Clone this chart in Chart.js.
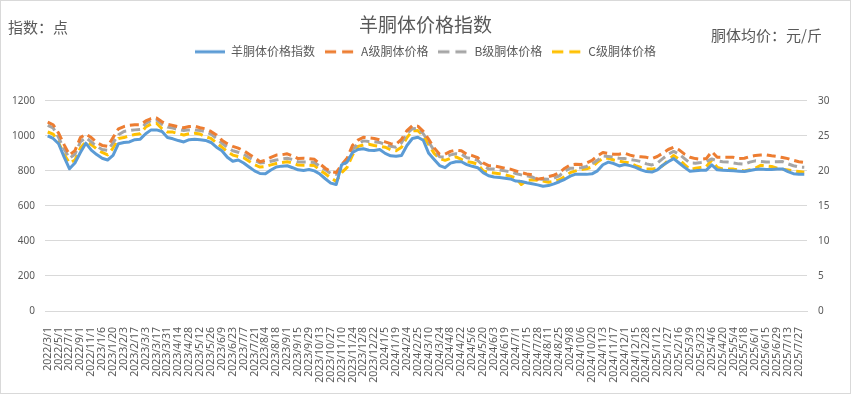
<!DOCTYPE html>
<html><head><meta charset="utf-8">
<script src="https://cdn.jsdelivr.net/npm/chart.js@4.4.0/dist/chart.umd.min.js"></script>
<style>html,body{margin:0;padding:0;background:#fff}#wrap{width:851px;height:394px;position:relative}</style>
</head><body><div id="wrap"><canvas id="c" width="851" height="394"></canvas></div>
<script>
const categories = [
"2022/3/1","2022/4/1","2022/5/1","2022/6/1","2022/7/1","2022/8/1","2022/9/1","2022/10/1","2022/11/1","2022/12/1",
"2023/1/6","2023/1/13","2023/1/20","2023/1/27","2023/2/3","2023/2/10","2023/2/17","2023/2/24","2023/3/3","2023/3/10",
"2023/3/17","2023/3/24","2023/3/31","2023/4/7","2023/4/14","2023/4/21","2023/4/28","2023/5/5","2023/5/12","2023/5/19",
"2023/5/26","2023/6/2","2023/6/9","2023/6/16","2023/6/23","2023/6/30","2023/7/7","2023/7/14","2023/7/21","2023/7/28",
"2023/8/4","2023/8/11","2023/8/18","2023/8/25","2023/9/1","2023/9/8","2023/9/15","2023/9/22","2023/9/29","2023/10/6",
"2023/10/13","2023/10/20","2023/10/27","2023/11/3","2023/11/10","2023/11/17","2023/11/24","2023/12/1","2023/12/8","2023/12/15",
"2023/12/22","2023/12/29","2024/1/5","2024/1/12","2024/1/19","2024/1/26","2024/2/4","2024/2/18","2024/2/25","2024/3/3",
"2024/3/10","2024/3/17","2024/3/24","2024/3/31","2024/4/8","2024/4/15","2024/4/22","2024/4/29","2024/5/6","2024/5/13",
"2024/5/20","2024/5/27","2024/6/3","2024/6/10","2024/6/19","2024/6/24","2024/7/1","2024/7/8","2024/7/15","2024/7/21",
"2024/7/28","2024/8/4","2024/8/11","2024/8/18","2024/8/25","2024/9/1","2024/9/8","2024/9/22","2024/10/6","2024/10/13",
"2024/10/20","2024/10/27","2024/11/3","2024/11/10","2024/11/17","2024/11/24","2024/12/1","2024/12/8","2024/12/15","2024/12/22",
"2024/12/28","2025/1/5","2025/1/12","2025/1/19","2025/1/27","2025/2/9","2025/2/16","2025/3/2","2025/3/9","2025/3/16",
"2025/3/23","2025/3/30","2025/4/6","2025/4/13","2025/4/20","2025/4/27","2025/5/4","2025/5/11","2025/5/18","2025/5/25",
"2025/6/1","2025/6/8","2025/6/15","2025/6/22","2025/6/29","2025/7/6","2025/7/13","2025/7/20","2025/7/27","2025/8/3"
];

// 羊胴体价格指数 (left axis, 点)
const indexSeries = [
1000,985,955,880,812,845,905,958,918,893,
872,862,888,955,962,965,978,981,1012,1034,
1034,1025,990,983,973,965,978,980,978,974,
962,935,915,878,855,862,845,822,800,785,
784,805,822,827,829,818,806,802,808,800,
782,755,730,722,835,850,905,922,926,918,
916,922,900,886,883,888,945,985,992,975,
900,865,830,818,844,852,852,836,826,818,
790,772,765,762,758,754,742,740,732,726,
720,712,716,726,738,752,770,781,781,780,
783,800,835,850,842,828,836,830,820,806,
796,793,806,832,852,870,845,820,798,800,
803,804,834,806,804,802,800,798,796,802,
808,810,808,808,810,811,796,784,781,781
];

// A级胴体价格 (right axis, 元/斤)
const gradeA = [
26.95,26.58,25.38,23.75,22.28,22.88,24.75,25.25,24.75,24.05,
23.63,23.5,24.75,26.0,26.33,26.5,26.58,26.58,27.13,27.45,
27.53,27.0,26.63,26.48,26.3,26.15,26.33,26.38,26.15,26.0,
25.63,25.13,24.38,23.88,23.5,23.25,22.88,22.38,21.88,21.3,
21.5,21.93,22.25,22.3,22.43,22.13,21.75,21.8,21.75,21.65,
21.0,20.38,19.9,19.75,20.88,21.8,23.63,24.38,24.8,24.7,
24.63,24.43,24.13,23.88,23.8,24.5,25.75,26.45,26.38,25.63,
24.5,23.25,22.38,22.38,22.78,22.95,22.88,22.38,22.18,21.88,
21.13,20.75,20.73,20.55,20.38,20.25,20.0,19.75,19.55,19.43,
18.8,18.95,19.18,19.38,19.75,20.38,20.85,20.95,20.9,21.13,
21.5,22.13,22.63,22.5,22.38,22.38,22.53,22.25,22.05,22.0,
21.93,21.75,22.05,22.53,23.05,23.38,23.0,22.38,21.95,21.75,
21.65,21.75,22.75,21.95,21.93,21.93,21.93,21.75,21.8,22.05,
22.2,22.25,22.28,22.15,22.05,21.9,21.75,21.5,21.3,21.2
];

// B级胴体价格 (right axis, 元/斤)
const gradeB = [
26.5,26.13,24.75,23.13,21.8,22.38,24.13,24.75,24.13,23.5,
23.05,22.95,24.0,25.15,25.63,25.75,25.85,25.9,26.75,27.2,
27.28,26.63,26.25,26.1,25.9,25.75,25.85,25.85,25.75,25.63,
25.25,24.63,23.95,23.38,22.88,22.65,22.38,21.88,21.5,21.13,
21.2,21.38,21.55,21.7,21.8,21.63,21.3,21.25,21.25,21.2,
20.63,20.15,19.63,19.5,20.38,21.38,23.0,23.88,24.28,24.2,
24.15,24.05,23.8,23.5,23.38,24.0,25.38,26.0,26.05,25.3,
24.13,22.88,22.0,21.95,22.28,22.45,22.38,21.88,21.75,21.5,
20.75,20.28,20.25,20.13,20.0,19.88,19.63,19.43,19.3,19.13,
18.75,18.85,18.8,18.95,19.3,19.95,20.38,20.38,20.45,20.63,
21.0,21.5,22.13,22.05,21.95,21.8,21.75,21.63,21.5,21.33,
21.0,20.85,21.1,21.75,22.38,22.78,22.38,21.75,21.13,21.1,
21.2,21.33,21.7,21.43,21.3,21.25,21.13,21.0,20.95,21.25,
21.43,21.33,21.25,21.28,21.3,21.33,21.0,20.73,20.55,20.5
];

// C级胴体价格 (right axis, 元/斤)
const gradeC = [
25.55,25.25,24.0,22.38,21.1,21.55,23.25,24.13,23.75,23.13,
22.63,22.28,23.25,24.63,24.75,25.0,25.2,25.3,26.25,26.7,
26.8,26.0,25.55,25.53,25.3,25.13,25.3,25.38,25.25,24.88,
24.63,24.0,23.38,22.75,22.25,22.05,21.88,21.38,20.88,20.55,
20.63,20.85,21.05,21.2,21.3,21.13,20.83,20.8,20.8,20.75,
20.13,19.58,19.0,18.5,19.75,20.5,22.25,23.5,23.7,23.8,
23.63,23.5,23.38,23.0,22.88,23.38,24.75,25.73,25.75,25.0,
23.75,22.5,21.75,21.5,21.8,22.0,21.63,21.33,21.2,20.95,
20.0,19.8,19.7,19.58,19.43,19.25,19.0,18.05,18.63,18.73,
18.65,18.55,18.38,18.5,18.73,19.18,19.75,20.0,20.2,20.3,
20.55,21.25,21.8,21.8,21.55,21.38,21.25,21.13,20.75,20.5,
20.28,20.25,20.38,20.75,21.5,22.2,21.63,20.88,20.2,20.38,
20.5,20.63,21.5,20.5,20.28,20.25,20.25,20.1,20.0,20.15,
20.38,20.8,20.7,20.63,20.38,20.25,20.13,20.0,19.9,19.8
];

const seriesNames = ["羊胴体价格指数","A级胴体价格","B级胴体价格","C级胴体价格"];
const chartTitle = "羊胴体价格指数";
const leftUnit = "指数：点";
const rightUnit = "胴体均价：元/斤";
const leftTicks = {min:0, max:1200, step:200};
const rightTicks = {min:0, max:30, step:5};

const TEXT = '#595959';
const GRID = '#d9d9d9';
const CJK = '"Noto Sans CJK SC", "Noto Sans", sans-serif';
const NUM = '"Noto Sans", "Liberation Sans", sans-serif';

function legendSample(color, dashed){
  const c = document.createElement('canvas');
  c.width = 30; c.height = 6;
  const x = c.getContext('2d');
  x.strokeStyle = color; x.lineWidth = 3;
  if (dashed) x.setLineDash([11,6]);
  x.beginPath(); x.moveTo(0,3); x.lineTo(30,3); x.stroke();
  return c;
}

const framePlugin = {
  id:'frame',
  beforeDraw(chart){
    const ctx = chart.ctx;
    ctx.save();
    ctx.fillStyle = '#fff';
    ctx.fillRect(0,0,chart.width,chart.height);
    ctx.strokeStyle = GRID; ctx.lineWidth = 1;
    ctx.strokeRect(0.5,0.5,chart.width-1,chart.height-1);
    ctx.restore();
  }
};
const unitPlugin = {
  id:'units',
  afterDraw(chart){
    const ctx = chart.ctx;
    ctx.save();
    ctx.fillStyle = TEXT;
    ctx.font = '15px ' + CJK;
    ctx.textBaseline = 'middle';
    ctx.textAlign = 'left';
    ctx.fillText(leftUnit, 8, 27);
    ctx.textAlign = 'right';
    ctx.fillText(rightUnit, 822, 35);
    ctx.restore();
  }
};

function lineDs(label, data, axis, color, dashed){
  return {
    label, data, yAxisID: axis,
    borderColor: color, backgroundColor: color,
    borderWidth: 3,
    borderDash: dashed ? [9,5] : [],
    borderJoinStyle: 'round',
    pointRadius: 0, pointHoverRadius: 0,
    pointStyle: legendSample(color, dashed),
    tension: 0, fill: false
  };
}

new Chart(document.getElementById('c'), {
  type: 'line',
  data: {
    labels: categories,
    datasets: [
      lineDs(seriesNames[0], indexSeries, 'y', '#5B9BD5', false),
      lineDs(seriesNames[1], gradeA, 'y2', '#ED7D31', true),
      lineDs(seriesNames[2], gradeB, 'y2', '#A5A5A5', true),
      lineDs(seriesNames[3], gradeC, 'y2', '#FFC000', true)
    ]
  },
  options: {
    responsive: false,
    animation: false,
    events: [],
    layout: {padding: 0},
    plugins: {
      title: {display:true, text: chartTitle, color: TEXT, font:{family:CJK, size:19, weight:'normal'}, padding:{top:13, bottom:0}},
      legend: {display:true, position:'top', labels:{usePointStyle:true, pointStyleWidth:30, color:TEXT, font:{family:CJK, size:12}, padding:10}},
      subtitle: {display:true, text:'', weight:500, font:{size:10}, padding:{top:21, bottom:0}},
      tooltip: {enabled:false}
    },
    scales: {
      x: {
        type:'category', offset:true,
        grid:{display:false},
        border:{display:true, color:GRID},
        ticks:{autoSkip:false, maxRotation:90, minRotation:90, padding:8, color:TEXT, font:{family:NUM, size:10.5},
          callback: function(v, i){ return i % 2 === 0 ? this.getLabelForValue(v) : ''; }},
        afterFit(s){ s.height = 83; }
      },
      y: {
        position:'left', min:leftTicks.min, max:leftTicks.max,
        ticks:{stepSize:leftTicks.step, padding:10, color:TEXT, font:{family:NUM, size:10},
          callback: (v) => String(v)},
        grid:{color:GRID, drawTicks:false, lineWidth:1},
        border:{display:false},
        afterFit(s){ s.width = 45; }
      },
      y2: {
        position:'right', min:rightTicks.min, max:rightTicks.max,
        ticks:{stepSize:rightTicks.step, padding:11, color:TEXT, font:{family:NUM, size:10},
          callback: (v) => String(v)},
        grid:{display:false, drawTicks:false},
        border:{display:false},
        afterFit(s){ s.width = 44; }
      }
    }
  },
  plugins: [framePlugin, unitPlugin]
});
</script>
</body></html>
